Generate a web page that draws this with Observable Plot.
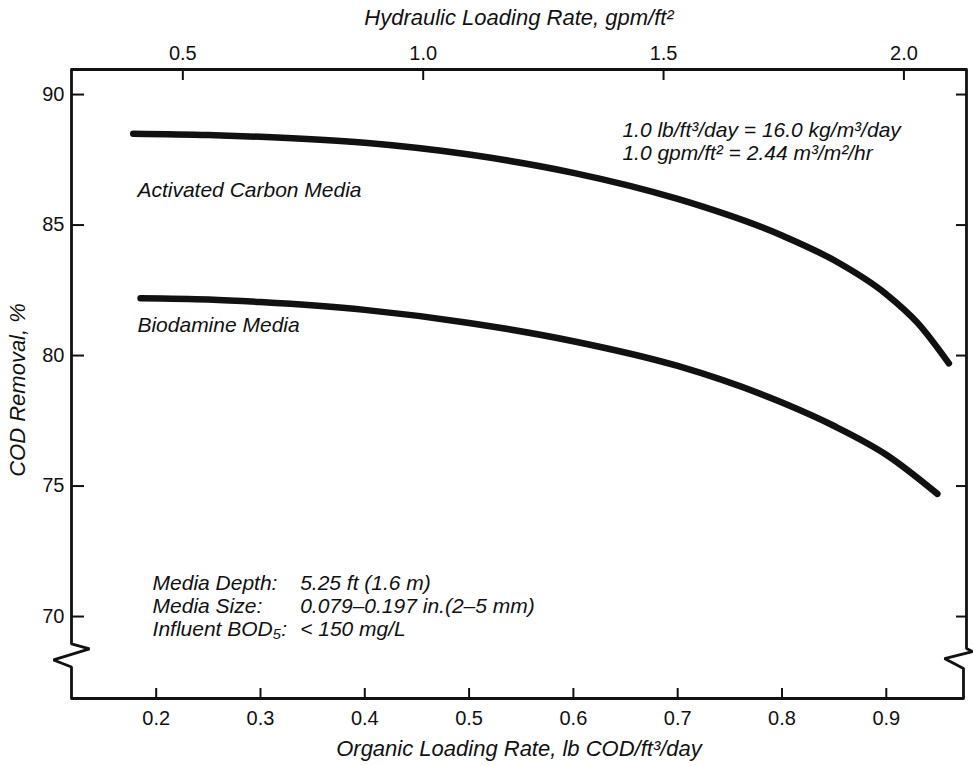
<!DOCTYPE html>
<html><head><meta charset="utf-8">
<script src="https://cdn.jsdelivr.net/npm/d3@7"></script>
<script src="https://cdn.jsdelivr.net/npm/@observablehq/plot@0.6"></script>
<style>
body{margin:0;background:#fff}
#chart svg{display:block}
</style>
</head><body><div id="chart"></div>
<script>
// ---- data ----
const carbonX = [0.178, 0.25, 0.30, 0.40, 0.50, 0.60, 0.70, 0.80, 0.85, 0.90, 0.93, 0.960];
const carbonY = [88.50, 88.45, 88.38, 88.15, 87.70, 87.00, 86.00, 84.60, 83.65, 82.35, 81.25, 79.70];
const bioX = [0.185, 0.25, 0.30, 0.40, 0.50, 0.60, 0.70, 0.80, 0.85, 0.90, 0.949];
const bioY = [82.20, 82.15, 82.05, 81.75, 81.25, 80.55, 79.60, 78.20, 77.30, 76.20, 74.70];
const organicTicks = [0.2, 0.3, 0.4, 0.5, 0.6, 0.7, 0.8, 0.9];
const hydraulicTicks = [0.5, 1.0, 1.5, 2.0];
const removalTicks = [70, 75, 80, 85, 90];
const seriesNames = ["Activated Carbon Media", "Biodamine Media"];
const noteLines = ["1.0 lb/ft³/day = 16.0 kg/m³/day", "1.0 gpm/ft² = 2.44 m³/m²/hr"];
const mediaLabels = ["Media Depth:", "Media Size:", "Influent BOD₅:"];
const mediaValues = ["5.25 ft (1.6 m)", "0.079–0.197 in.(2–5 mm)", "< 150 mg/L"];
const xTitle = "Organic Loading Rate, lb COD/ft³/day";
const x2Title = "Hydraulic Loading Rate, gpm/ft²";
const yTitle = "COD Removal, %";
// hydraulic -> organic position
const hydToOrg = h => 0.4609 * h - 0.0049;

// ---- layout ----
const W = 973, H = 766;
const mL = 71, mR = 7, mT = 69, mB = 68;
const xDom = [0.1188, 0.9769], yDom = [66.86, 90.96];
const ppx = (W - mL - mR) / (xDom[1] - xDom[0]);
const ppy = (H - mT - mB) / (yDom[1] - yDom[0]);
const FONT = "Liberation Sans, Arial, Helvetica, sans-serif";
const INK = "#111";

const carbon = carbonX.map((x, i) => ({x, y: carbonY[i]}));
const bio = bioX.map((x, i) => ({x, y: bioY[i]}));

// frame sides with break marks (pixel offsets turned into data units)
function side(x0, yc, offs, topOff, botOff) {
  const pts = [{x: x0 + topOff / ppx, y: yDom[1]}];
  for (const [dx, dy] of offs) pts.push({x: x0 + dx / ppx, y: yc - dy / ppy});
  pts.push({x: x0 + botOff / ppx, y: yDom[0]});
  return pts;
}
const leftSide = side(xDom[0], 68.49, [[0,-12],[18,-7],[-18,4],[0,11]], 0, 0);
const rightSide = side(xDom[1], 68.39, [[0,-10],[6,-7],[-22,0],[-3,10]], 0, -3);

const textStyle = {fontFamily: FONT, fill: INK};
const italic = {fontStyle: "italic", textAnchor: "start", lineAnchor: "middle", ...textStyle};

const plot = Plot.plot({
  width: W, height: H,
  marginLeft: mL, marginRight: mR, marginTop: mT, marginBottom: mB,
  style: {fontFamily: FONT, background: "#fff", color: INK},
  x: {domain: xDom, axis: null},
  y: {domain: yDom, axis: null},
  marks: [
    // frame
    Plot.ruleY([yDom[1]], {x1: xDom[0], x2: xDom[1], stroke: INK, strokeWidth: 2.8}),
    Plot.ruleY([yDom[0]], {x1: xDom[0], x2: xDom[1] - 3 / ppx, stroke: INK, strokeWidth: 2.8}),
    Plot.line(leftSide, {x: "x", y: "y", stroke: INK, strokeWidth: 2.8, strokeLinejoin: "miter"}),
    Plot.line(rightSide, {x: "x", y: "y", stroke: INK, strokeWidth: 2.8, strokeLinejoin: "miter"}),
    // bottom axis: inward ticks + labels
    Plot.axisX(organicTicks, {anchor: "bottom", tickSize: 10, dy: -10, tickFormat: () => "", stroke: INK, strokeWidth: 2, label: null}),
    Plot.axisX(organicTicks, {anchor: "bottom", tickSize: 0, tickPadding: 12, fontSize: 20, tickFormat: d => d.toFixed(1), label: null, ...textStyle}),
    // top axis (hydraulic)
    Plot.axisX(hydraulicTicks.map(hydToOrg), {anchor: "top", tickSize: 10, dy: 10, tickFormat: () => "", stroke: INK, strokeWidth: 2, label: null}),
    Plot.axisX(hydraulicTicks.map(hydToOrg), {anchor: "top", tickSize: 0, tickPadding: 10, fontSize: 20, tickFormat: (d, i) => hydraulicTicks[i].toFixed(1), label: null, ...textStyle}),
    // left axis
    Plot.axisY(removalTicks, {anchor: "left", tickSize: 13, dx: 13, tickFormat: () => "", stroke: INK, strokeWidth: 2, label: null}),
    Plot.axisY(removalTicks, {anchor: "left", tickSize: 0, tickPadding: 7, fontSize: 20, label: null, ...textStyle}),
    // right axis ticks only
    Plot.axisY(removalTicks, {anchor: "right", tickSize: 11, dx: -11, tickFormat: () => "", stroke: INK, strokeWidth: 2, label: null}),
    // curves
    Plot.line(carbon, {x: "x", y: "y", curve: "monotone-x", stroke: INK, strokeWidth: 6.5, strokeLinecap: "round"}),
    Plot.line(bio, {x: "x", y: "y", curve: "monotone-x", stroke: INK, strokeWidth: 6.5, strokeLinecap: "round"}),
    // series labels
    Plot.text([seriesNames[0]], {x: 0.182, y: 86.32, text: d => d, fontSize: 21, ...italic}),
    Plot.text([seriesNames[1]], {x: 0.182, y: 81.15, text: d => d, fontSize: 21, ...italic}),
    // unit conversion note
    Plot.text(noteLines, {x: 0.647, y: (d, i) => 88.62 - i * 0.88, text: d => d, fontSize: 21, ...italic}),
    // media notes
    Plot.text(mediaLabels, {x: 0.1965, y: (d, i) => 71.26 - i * 0.88, text: d => d, fontSize: 21, ...italic}),
    Plot.text(mediaValues, {x: 0.338, y: (d, i) => 71.26 - i * 0.88, text: d => d, fontSize: 21, ...italic}),
    // axis titles
    Plot.text([xTitle], {frameAnchor: "bottom", dy: 50, text: d => d, fontSize: 22, ...italic, textAnchor: "middle"}),
    Plot.text([x2Title], {frameAnchor: "top", dy: -52, text: d => d, fontSize: 22, ...italic, textAnchor: "middle"}),
    Plot.text([yTitle], {frameAnchor: "left", dx: -54, dy: 6, rotate: -90, text: d => d, fontSize: 22, ...italic, textAnchor: "middle"})
  ]
});
document.getElementById("chart").appendChild(plot);
</script>
</body></html>
